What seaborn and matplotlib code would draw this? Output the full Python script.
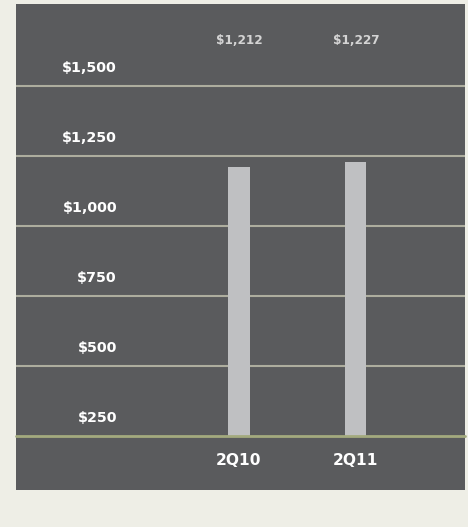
import matplotlib.pyplot as plt
import matplotlib.patches as mpatches
import pandas as pd
import seaborn as sns

# data
quarters = ["2Q10", "2Q11"]
values = [1212, 1227]
value_labels = ["$1,212", "$1,227"]
y_ticks = [250, 500, 750, 1000, 1250, 1500]
y_tick_labels = ["$250", "$500", "$750", "$1,000", "$1,250", "$1,500"]

df = pd.DataFrame({"quarter": quarters, "value": values})

sns.set_theme(style="white")
plt.rcParams["font.family"] = ["DejaVu Sans"]

W, H = 468, 527
panel_col = "#5a5b5d"
fig = plt.figure(figsize=(W / 100, H / 100), dpi=100)
fig.patch.set_facecolor("#eeeee6")

# dark panel behind everything
fig.patches.append(mpatches.Rectangle((16 / W, 1 - 490 / H), 449 / W, 486 / H,
                                      transform=fig.transFigure, facecolor=panel_col,
                                      edgecolor="none", zorder=-10))

ax = fig.add_axes([16 / W, 1 - 436 / H, 449 / W, 432 / H])
ax.set_facecolor(panel_col)
ax.set_zorder(1)

sns.barplot(data=df, x="quarter", y="value", color="#bfc0c2", width=0.18,
            saturation=1, linewidth=0, ax=ax, zorder=2)

ax.set_xlim(-1.906, 1.932)
ax.set_ylim(250, 1793)

# gridlines
for t in y_ticks[1:]:
    ax.axhline(t, color="#adad9e", lw=1.5, zorder=1)
ax.axhline(250, color="#a3aa7e", lw=2, zorder=3, clip_on=False)

# y labels sit above their gridline
for t, lab in zip(y_ticks, y_tick_labels):
    ax.annotate(lab, xy=((117 - 16) / 449, t), xycoords=("axes fraction", "data"),
                xytext=(0, 8), textcoords="offset points", ha="right", va="bottom",
                color="white", fontsize=10.3, fontweight="bold")

# value labels at top
for i, lab in enumerate(value_labels):
    ax.annotate(lab, xy=(i, 1), xycoords=("data", "axes fraction"),
                xytext=(0, -26), textcoords="offset points", ha="center", va="center",
                color="#d4d4d4", fontsize=8.7, fontweight="bold")

ax.set_xticks(range(len(quarters)))
ax.set_xticklabels(quarters, color="white", fontsize=11.2, fontweight="bold")
ax.tick_params(axis="x", length=0, pad=12)
ax.set_yticks([])
ax.set_xlabel("")
ax.set_ylabel("")
for s in ax.spines.values():
    s.set_visible(False)

fig.savefig("out.png", dpi=100, facecolor=fig.get_facecolor())
